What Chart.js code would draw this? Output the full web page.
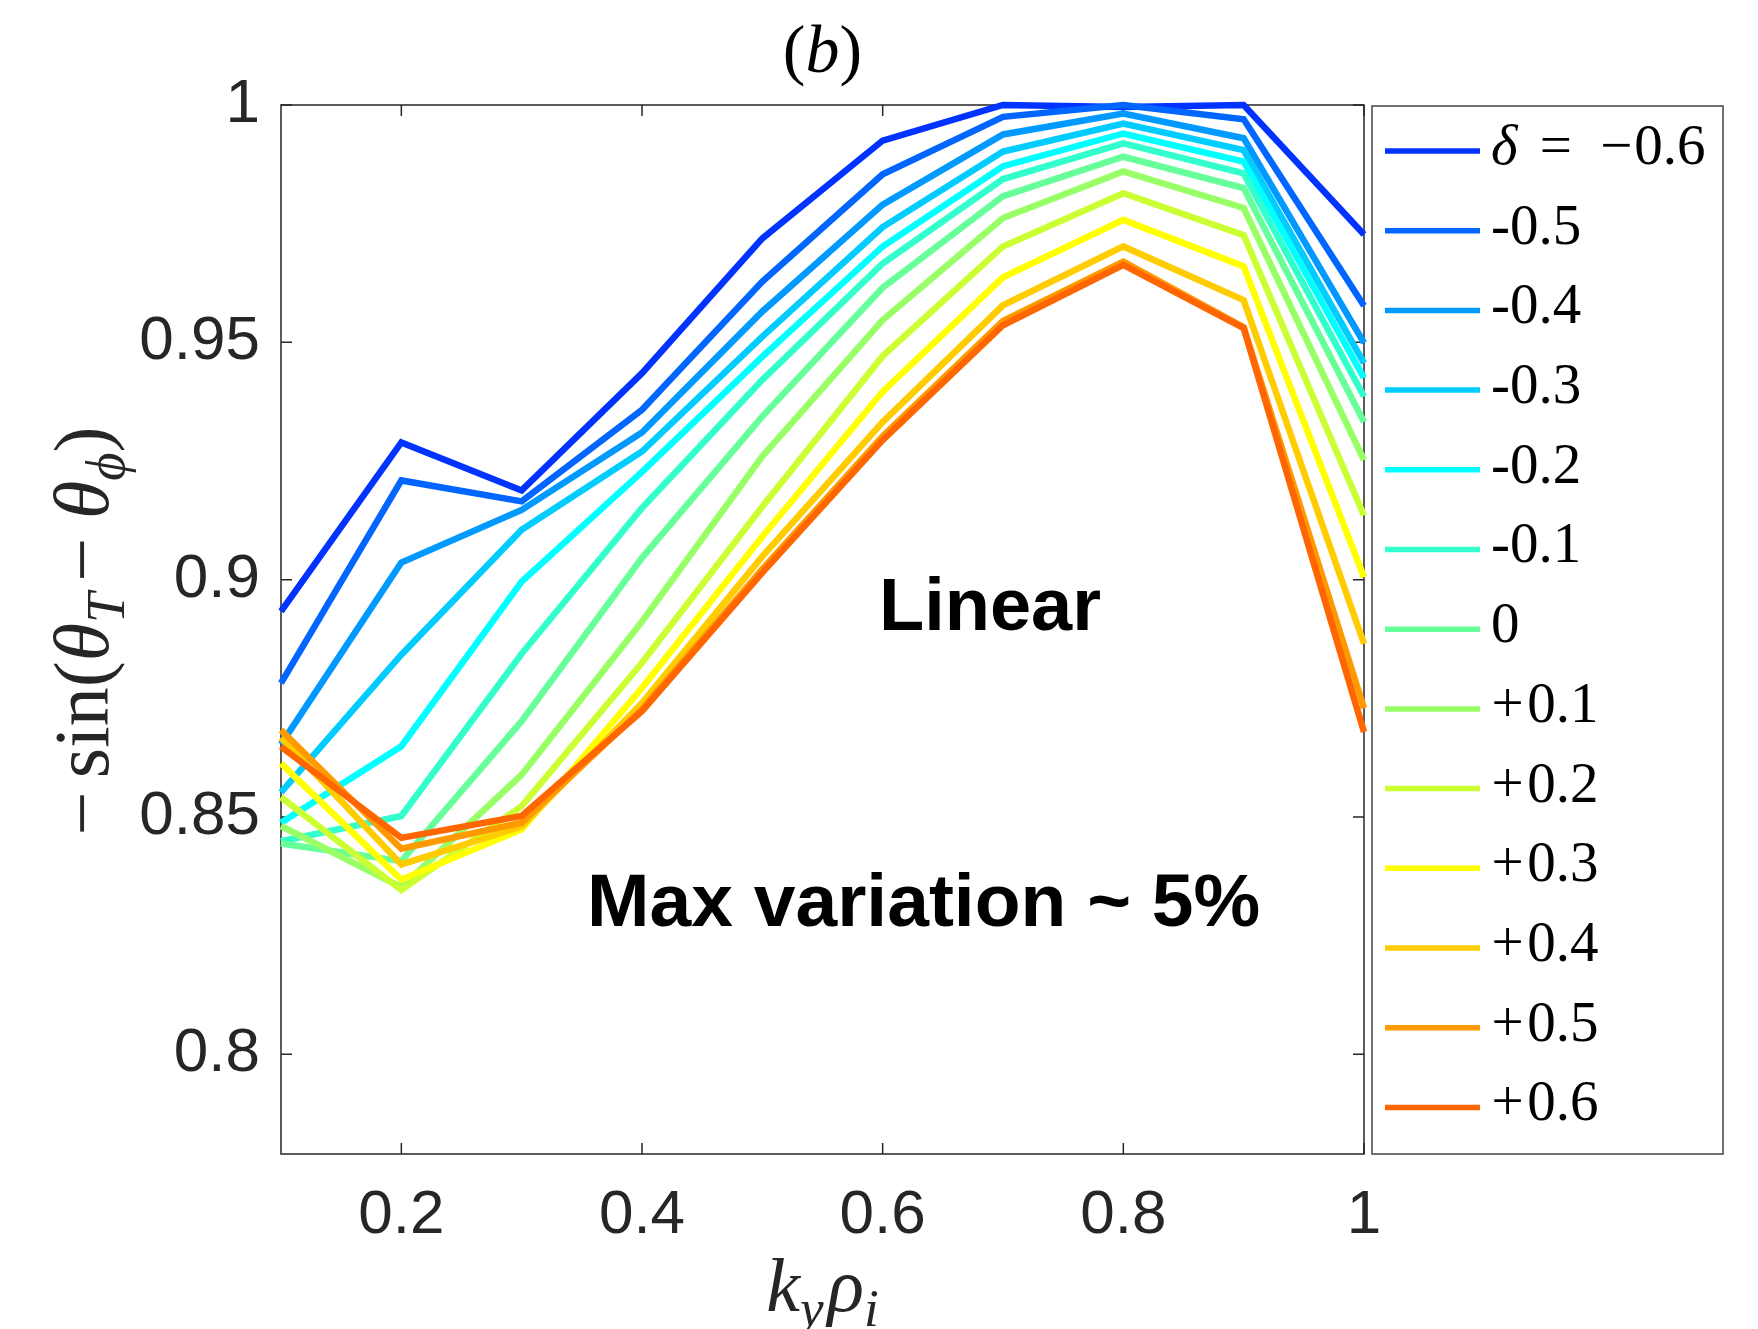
<!DOCTYPE html>
<html>
<head>
<meta charset="utf-8">
<script src="https://cdn.jsdelivr.net/npm/chart.js@4.4.1/dist/chart.umd.min.js"></script>
<style>
  html, body { margin: 0; padding: 0; background: #fff; }
  #wrap { width: 1758px; height: 1329px; }
</style>
</head>
<body>
<div id="wrap"><canvas id="c" width="1758" height="1329"></canvas></div>
<script>
// k_y rho_i sample points (x axis)
const kyRho = [0.1, 0.2, 0.3, 0.4, 0.5, 0.6, 0.7, 0.8, 0.9, 1.0];

// -sin(theta_T - theta_phi), one array per triangularity delta
const deltaM06 = [0.8933, 0.9289, 0.9188, 0.9435, 0.9719, 0.9925, 1.0000, 0.9996, 1.0000, 0.9727];
const deltaM05 = [0.8782, 0.9209, 0.9165, 0.9358, 0.9628, 0.9854, 0.9975, 1.0000, 0.9970, 0.9577];
const deltaM04 = [0.8653, 0.9036, 0.9147, 0.9310, 0.9565, 0.9790, 0.9938, 0.9982, 0.9930, 0.9499];
const deltaM03 = [0.8552, 0.8842, 0.9105, 0.9270, 0.9512, 0.9743, 0.9902, 0.9961, 0.9905, 0.9456];
const deltaM02 = [0.8488, 0.8649, 0.8996, 0.9227, 0.9470, 0.9702, 0.9871, 0.9940, 0.9881, 0.9425];
const deltaM01 = [0.8449, 0.8502, 0.8844, 0.9151, 0.9421, 0.9666, 0.9844, 0.9919, 0.9856, 0.9386];
const delta0   = [0.8444, 0.8407, 0.8702, 0.9046, 0.9344, 0.9615, 0.9808, 0.9891, 0.9825, 0.9332];
const deltaP01 = [0.8481, 0.8352, 0.8589, 0.8912, 0.9260, 0.9547, 0.9762, 0.9860, 0.9783, 0.9252];
const deltaP02 = [0.8542, 0.8346, 0.8523, 0.8825, 0.9154, 0.9471, 0.9702, 0.9814, 0.9726, 0.9135];
const deltaP03 = [0.8613, 0.8368, 0.8474, 0.8772, 0.9091, 0.9396, 0.9637, 0.9758, 0.9660, 0.9005];
const deltaP04 = [0.8667, 0.8400, 0.8480, 0.8740, 0.9049, 0.9332, 0.9578, 0.9702, 0.9589, 0.8865];
const deltaP05 = [0.8683, 0.8433, 0.8488, 0.8727, 0.9022, 0.9302, 0.9545, 0.9670, 0.9532, 0.8729];
const deltaP06 = [0.8648, 0.8456, 0.8502, 0.8723, 0.9015, 0.9294, 0.9536, 0.9663, 0.9530, 0.8679];

const seriesValues = [deltaM06, deltaM05, deltaM04, deltaM03, deltaM02, deltaM01, delta0,
                      deltaP01, deltaP02, deltaP03, deltaP04, deltaP05, deltaP06];
const legendLabels = ["δ = −0.6", "-0.5", "-0.4", "-0.3", "-0.2", "-0.1", "0",
                      "+0.1", "+0.2", "+0.3", "+0.4", "+0.5", "+0.6"];
const lineColors = ["#0033ff", "#0066ff", "#0099ff", "#00ccff", "#00ffff", "#33ffcc", "#66ff99",
                    "#99ff66", "#ccff33", "#ffff00", "#ffcc00", "#ff9900", "#ff6600"];

const xTicks = [0.2, 0.4, 0.6, 0.8, 1];
const xTickLabels = ["0.2", "0.4", "0.6", "0.8", "1"];
const yTicks = [0.8, 0.85, 0.9, 0.95, 1];
const yTickLabels = ["0.8", "0.85", "0.9", "0.95", "1"];

const AXIS = "#262626";
const SANS = '"Liberation Sans", Arial, sans-serif';
const SERIF = '"Liberation Serif", "Times New Roman", serif';

// draws a run of math-ish segments: {t, i: italic, sub: subscript, gap: em after}
function drawRich(c, segs, size, x, y) {
  const fontFor = (s) => `${s.i ? "italic " : ""}${s.sub ? size * 0.7 : size}px ${SERIF}`;
  let w = 0;
  for (const s of segs) { c.font = fontFor(s); w += c.measureText(s.t).width + (s.gap || 0) * size; }
  let cx = x - w / 2;
  c.textAlign = "left";
  c.textBaseline = "alphabetic";
  for (const s of segs) {
    c.font = fontFor(s);
    c.fillText(s.t, cx, y + (s.sub ? size * 0.2 : 0));
    cx += c.measureText(s.t).width + (s.gap || 0) * size;
  }
}

// legend text: TeX-like spacing around relations and signs
function drawLegendText(c, label, x, y, size) {
  let tx = x;
  const parts = label.split(" ");
  parts.forEach((p, k) => {
    for (const ch of p) {
      c.font = `${ch === "δ" ? "italic " : ""}${size}px ${SERIF}`;
      let before = 0, after = 0;
      if (ch === "+") { before = 0.01 * size; after = 0.06 * size; }
      else if (ch === "=") { before = 0.11 * size; after = 0.11 * size; }
      else if (ch === "−") { before = 0.11 * size; after = 0.03 * size; }
      c.fillText(ch, tx + before, y);
      tx += c.measureText(ch).width + before + after;
    }
    if (k < parts.length - 1) tx += 0.28 * size;
  });
}

const framePlugin = {
  id: "frame",
  beforeDatasetsDraw(chart) {
    const { ctx: c, chartArea: a, scales } = chart;
    const tl = 11;
    c.save();
    c.strokeStyle = AXIS;
    c.lineWidth = 1.5;
    c.strokeRect(a.left, a.top, a.right - a.left, a.bottom - a.top);
    c.beginPath();
    for (const v of xTicks) {
      const px = scales.x.getPixelForValue(v);
      c.moveTo(px, a.bottom); c.lineTo(px, a.bottom - tl);
      c.moveTo(px, a.top); c.lineTo(px, a.top + tl);
    }
    for (const v of yTicks) {
      const py = scales.y.getPixelForValue(v);
      c.moveTo(a.left, py); c.lineTo(a.left + tl, py);
      c.moveTo(a.right, py); c.lineTo(a.right - tl, py);
    }
    c.stroke();
    c.restore();
  },
  afterDraw(chart) {
    const { ctx: c, chartArea: a } = chart;
    c.save();
    c.fillStyle = "#000";
    // title
    drawRich(c, [{ t: "(" }, { t: "b", i: true }, { t: ")" }], 68, (a.left + a.right) / 2, 72);
    // x label
    c.fillStyle = AXIS;
    drawRich(c, [{ t: "k", i: true }, { t: "y", i: true, sub: true, gap: 0.05 },
                 { t: "ρ", i: true }, { t: "i", i: true, sub: true }], 76, (a.left + a.right) / 2, 1311);
    // y label, rotated
    c.save();
    c.translate(108, 631);
    c.rotate(-Math.PI / 2);
    drawRich(c, [{ t: "−", gap: 0.17 }, { t: "sin" }, { t: "(" }, { t: "θ", i: true },
                 { t: "T", i: true, sub: true, gap: 0.14 }, { t: "−", gap: 0.24 }, { t: "θ", i: true },
                 { t: "ϕ", i: true, sub: true }, { t: ")" }], 78, 0, 0);
    c.restore();

    // annotations
    c.fillStyle = "#000";
    c.textAlign = "left";
    c.textBaseline = "alphabetic";
    c.font = `bold 74px ${SANS}`;
    c.fillText("Linear", 879, 630);
    c.font = `bold 75px ${SANS}`;
    c.fillText("Max variation ~ 5%", 587, 926);

    // legend box
    const lx0 = 1372, ly0 = 106, lx1 = 1723, ly1 = 1154;
    c.strokeStyle = "#444";
    c.lineWidth = 1.5;
    c.strokeRect(lx0, ly0, lx1 - lx0, ly1 - ly0);
    const ds = chart.data.datasets;
    const rowH = 79.7;
    for (let i = 0; i < ds.length; i++) {
      const y = 151 + i * rowH;
      c.strokeStyle = ds[i].borderColor;
      c.lineWidth = 5.5;
      c.beginPath();
      c.moveTo(1385, y); c.lineTo(1480, y);
      c.stroke();
      c.fillStyle = "#000";
      c.textBaseline = "middle";
      drawLegendText(c, ds[i].label, 1491, y - 2, 57);
    }
    c.restore();
  },
};

const datasets = seriesValues.map((vals, i) => ({
  label: legendLabels[i],
  data: kyRho.map((x, j) => ({ x, y: vals[j] })),
  borderColor: lineColors[i],
  backgroundColor: lineColors[i],
  borderWidth: 6.5,
  pointRadius: 0,
  fill: false,
  tension: 0,
  clip: 10,
  order: seriesValues.length - i, // later series on top, like MATLAB
}));

new Chart(document.getElementById("c"), {
  type: "line",
  data: { datasets },
  options: {
    responsive: false,
    animation: false,
    events: [],
    layout: { padding: { top: 105, right: 394, bottom: 0, left: 0 } },
    plugins: { legend: { display: false }, tooltip: { enabled: false }, title: { display: false } },
    scales: {
      x: {
        type: "linear",
        min: 0.1,
        max: 1,
        afterBuildTicks: (s) => { s.ticks = xTicks.map((v) => ({ value: v })); },
        afterFit: (s) => { s.height = 175; },
        grid: { display: false, drawTicks: false },
        border: { display: false },
        ticks: {
          padding: 25,
          maxRotation: 0,
          autoSkip: false,
          color: AXIS,
          font: { family: SANS, size: 62 },
          callback: (v) => xTickLabels[xTicks.findIndex((t) => Math.abs(t - v) < 1e-9)],
        },
      },
      y: {
        type: "linear",
        min: 0.779,
        max: 1,
        afterBuildTicks: (s) => { s.ticks = yTicks.map((v) => ({ value: v })); },
        afterFit: (s) => { s.width = 281; },
        grid: { display: false, drawTicks: false },
        border: { display: false },
        ticks: {
          padding: 21,
          autoSkip: false,
          color: AXIS,
          font: { family: SANS, size: 62 },
          callback: (v) => yTickLabels[yTicks.findIndex((t) => Math.abs(t - v) < 1e-9)],
        },
      },
    },
  },
  plugins: [framePlugin],
});
</script>
</body>
</html>
